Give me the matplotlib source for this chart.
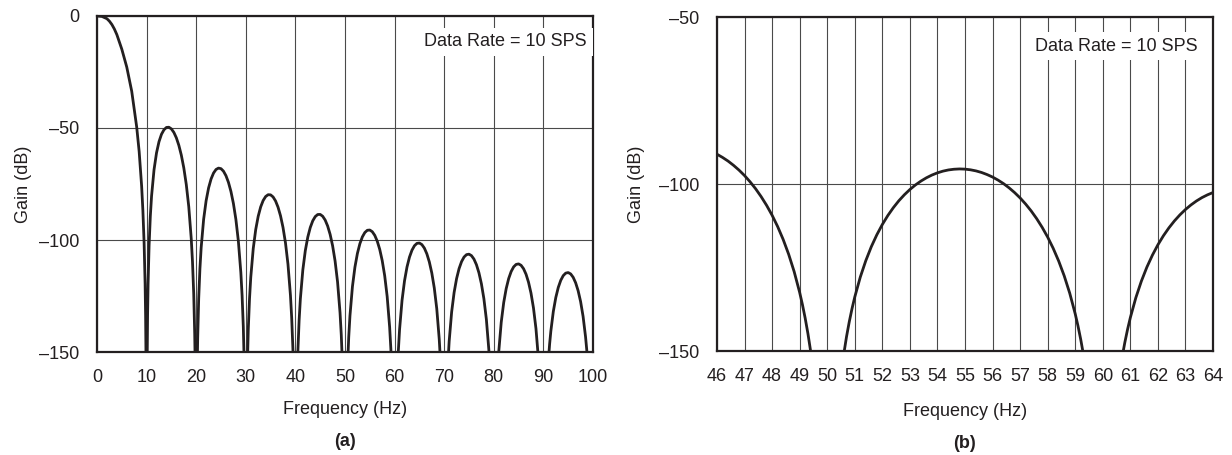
import matplotlib
matplotlib.use("Agg")
import matplotlib.pyplot as plt

plt.rcParams['font.family'] = ['Liberation Sans', 'DejaVu Sans']

# ---------------- data ----------------
# Panel (a): 0-100 Hz.  Points below -150 dB are the notches (clipped by the axis floor).
freq_a = [0.0, 1.0, 2.0, 2.5, 3.0, 3.5, 4.0, 5.0, 6.0, 7.0, 8.0, 8.5, 9.0, 9.25, 9.5, 9.7, 9.8, 9.9,
          10.1, 10.2, 10.3, 10.5, 10.75, 11.0, 11.5, 12.0, 12.5, 13.0, 13.5, 14.0, 14.5, 15.0, 15.5, 16.0, 16.5, 17.0, 17.5, 18.0, 18.5, 19.0, 19.25, 19.5, 19.7, 19.8,
          20.2, 20.3, 20.5, 20.75, 21.0, 21.5, 22.0, 22.5, 23.0, 23.5, 24.0, 24.5, 25.0, 25.5, 26.0, 26.5, 27.0, 27.5, 28.0, 28.5, 29.0, 29.25, 29.5, 29.7,
          30.3, 30.5, 30.75, 31.0, 31.5, 32.0, 32.5, 33.0, 33.5, 34.0, 34.5, 35.0, 35.5, 36.0, 36.5, 37.0, 37.5, 38.0, 38.5, 39.0, 39.25, 39.5, 39.7,
          40.3, 40.5, 40.75, 41.0, 41.5, 42.0, 42.5, 43.0, 43.5, 44.0, 44.5, 45.0, 45.5, 46.0, 46.5, 47.0, 47.5, 48.0, 48.5, 49.0, 49.25, 49.5,
          50.5, 50.75, 51.0, 51.5, 52.0, 52.5, 53.0, 53.5, 54.0, 54.5, 55.0, 55.5, 56.0, 56.5, 57.0, 57.5, 58.0, 58.5, 59.0, 59.25, 59.5,
          60.5, 60.75, 61.0, 61.5, 62.0, 62.5, 63.0, 63.5, 64.0, 64.5, 65.0, 65.5, 66.0, 66.5, 67.0, 67.5, 68.0, 68.5, 69.0, 69.25,
          70.75, 71.0, 71.5, 72.0, 72.5, 73.0, 73.5, 74.0, 74.5, 75.0, 75.5, 76.0, 76.5, 77.0, 77.5, 78.0, 78.5, 79.0, 79.25,
          80.75, 81.0, 81.5, 82.0, 82.5, 83.0, 83.5, 84.0, 84.5, 85.0, 85.5, 86.0, 86.5, 87.0, 87.5, 88.0, 88.5, 89.0, 89.25,
          90.75, 91.0, 91.25, 91.5, 92.0, 92.5, 93.0, 93.5, 94.0, 94.5, 95.0, 95.5, 96.0, 96.5, 97.0, 97.5, 98.0, 98.5, 98.75, 99.0]
gain_a = [0.0, -0.2, -1.2, -2.3, -3.8, -5.8, -8.3, -14.8, -22.8, -33.6, -49.5, -60.5, -76.0, -86.8, -101.5, -119.5, -134.0, -158.0,
          -156.9, -133.2, -119.5, -102.5, -89.4, -80.4, -68.6, -61.1, -56.1, -52.8, -50.8, -49.75, -49.66, -50.41, -51.98, -54.39, -57.73, -62.12, -67.8, -75.2, -85.1, -99.4, -109.6, -124.0, -142.0, -156.2,
          -157.66, -143.74, -126.36, -112.80, -103.40, -90.74, -82.45, -76.73, -72.74, -70.09, -68.51, -67.90, -68.16, -69.28, -71.29, -74.25, -78.30, -83.67, -90.79, -100.46, -114.52, -124.62, -138.86, -156.80,
          -157.29, -139.83, -126.18, -116.68, -103.82, -95.33, -89.41, -85.22, -82.37, -80.60, -79.78, -79.85, -80.78, -82.58, -85.35, -89.20, -94.37, -101.29, -110.76, -124.62, -134.62, -148.77, -166.63,
          -167.06, -149.56, -135.85, -126.29, -113.32, -104.72, -98.69, -94.40, -91.43, -89.55, -88.62, -88.58, -89.40, -91.09, -93.75, -97.48, -102.55, -109.36, -118.72, -132.47, -142.41, -156.50,
          -157.16, -143.42, -133.82, -120.78, -112.12, -106.01, -101.65, -98.61, -96.66, -95.66, -95.55, -96.30, -97.92, -100.51, -104.17, -109.17, -115.90, -125.20, -138.88, -148.78, -162.84,
          -163.39, -149.63, -140.01, -126.92, -118.21, -112.05, -107.64, -104.56, -102.56, -101.51, -101.35, -102.05, -103.62, -106.16, -109.78, -114.73, -121.41, -130.66, -144.29, -154.17,
          -154.91, -145.28, -132.15, -123.40, -117.21, -112.76, -109.65, -107.61, -106.53, -106.33, -106.99, -108.53, -111.03, -114.62, -119.53, -126.18, -135.39, -148.98, -158.85,
          -159.48, -149.84, -136.68, -127.90, -121.69, -117.21, -114.07, -112.00, -110.90, -110.67, -111.30, -112.82, -115.29, -118.85, -123.73, -130.36, -139.54, -153.10, -162.96,
          -163.54, -153.88, -146.54, -140.70, -131.90, -125.67, -121.17, -118.00, -115.91, -114.79, -114.54, -115.15, -116.65, -119.10, -122.63, -127.49, -134.10, -143.26, -149.28, -156.80]

# Panel (b): 46-64 Hz close-up
freq_b = [46.0, 46.2, 46.4, 46.6, 46.8, 47.0, 47.2, 47.4, 47.6, 47.8, 48.0, 48.2, 48.4, 48.6, 48.8, 49.0, 49.1, 49.2, 49.3, 49.4, 49.5,
          50.5, 50.6, 50.7, 50.8, 50.9, 51.0, 51.2, 51.4, 51.6, 51.8, 52.0, 52.2, 52.4, 52.6, 52.8, 53.0, 53.2, 53.4, 53.6, 53.8, 54.0,
          54.2, 54.4, 54.6, 54.8, 55.0, 55.2, 55.4, 55.6, 55.8, 56.0, 56.2, 56.4, 56.6, 56.8, 57.0, 57.2, 57.4, 57.6, 57.8, 58.0,
          58.2, 58.4, 58.6, 58.8, 59.0, 59.1, 59.2, 59.3, 59.4,
          60.6, 60.7, 60.8, 60.9, 61.0, 61.2, 61.4, 61.6, 61.8, 62.0, 62.2, 62.4, 62.6, 62.8, 63.0, 63.2, 63.4, 63.6, 63.8, 64.0]
gain_b = [-91.09, -92.04, -93.13, -94.41, -95.85, -97.48, -99.34, -101.41, -103.76, -106.39, -109.36, -112.73, -116.58, -121.03, -126.23, -132.47, -136.10, -140.17, -144.80, -150.16, -156.50,
          -157.16, -150.95, -145.73, -141.25, -137.31, -133.82, -127.87, -122.95, -118.77, -115.21, -112.12, -109.43, -107.08, -105.01, -103.22, -101.65, -100.29, -99.13, -98.14, -97.32, -96.66,
          -96.15, -95.79, -95.58, -95.49, -95.55, -95.75, -96.08, -96.55, -97.17, -97.92, -98.84, -99.90, -101.15, -102.57, -104.17, -106.00, -108.05, -110.36, -112.97, -115.90,
          -119.25, -123.07, -127.49, -132.67, -138.88, -142.49, -146.55, -151.17, -156.51,
          -157.18, -151.95, -147.46, -143.51, -140.01, -134.04, -129.10, -124.90, -121.32, -118.21, -115.50, -113.13, -111.05, -109.23, -107.64, -106.27, -105.08, -104.07, -103.24, -102.56]

xticks_a = [0, 10, 20, 30, 40, 50, 60, 70, 80, 90, 100]
yticks_a = [0, -50, -100, -150]
xticks_b = [46, 47, 48, 49, 50, 51, 52, 53, 54, 55, 56, 57, 58, 59, 60, 61, 62, 63, 64]
yticks_b = [-50, -100, -150]
note_text = "Data Rate = 10 SPS"
xlabel_text = "Frequency (Hz)"
ylabel_text = "Gain (dB)"
captions = ["(a)", "(b)"]

# ---------------- drawing ----------------
INK = '#231f20'
GRID = '#4a4a4a'
FS = 13

W, H = 1232, 455
fig = plt.figure(figsize=(W / 100, H / 100), dpi=100)


def px_axes(left, top, right, bottom):
    return fig.add_axes([left / W, 1 - bottom / H, (right - left) / W, (bottom - top) / H])


def dash(v):
    return ('\u2013' + str(abs(v))) if v < 0 else str(v)


def style(ax, xt, yt, xlim, ylim, note_xy):
    ax.set_xlim(*xlim)
    ax.set_ylim(*ylim)
    ax.set_xticks(xt)
    ax.set_xticklabels([str(v) for v in xt])
    ax.set_yticks(yt)
    ax.set_yticklabels([dash(v) for v in yt])
    ax.tick_params(axis='both', length=0, labelsize=FS, colors=INK)
    ax.tick_params(axis='x', pad=12)
    ax.tick_params(axis='y', pad=13)
    ax.set_axisbelow(True)
    ax.grid(True, color=GRID, linewidth=0.8)
    for s in ax.spines.values():
        s.set_linewidth(1.6)
        s.set_color(INK)
    ax.set_xlabel(xlabel_text, fontsize=FS, color=INK)
    ax.set_ylabel(ylabel_text, fontsize=FS, color=INK)
    ax.text(note_xy[0], note_xy[1], note_text, transform=ax.transAxes, ha='right', va='center',
            fontsize=FS, color=INK, zorder=3,
            bbox=dict(facecolor='white', edgecolor='none', pad=4))


axa = px_axes(97, 16, 593, 352)
axa.plot(freq_a, gain_a, color=INK, linewidth=2.0, solid_joinstyle='round', solid_capstyle='round', zorder=4)
style(axa, xticks_a, yticks_a, (0, 100), (-150, 0), (0.988, 0.923))
axa.xaxis.set_label_coords(0.5, -0.147)
axa.yaxis.set_label_coords(-0.131, 0.5)

axb = px_axes(717, 17, 1213, 351)
axb.plot(freq_b, gain_b, color=INK, linewidth=2.0, solid_joinstyle='round', solid_capstyle='round', zorder=4)
style(axb, xticks_b, yticks_b, (46, 64), (-150, -50), (0.970, 0.913))
axb.xaxis.set_label_coords(0.5, -0.155)
axb.yaxis.set_label_coords(-0.145, 0.5)

fig.text((97 + 593) / 2 / W, 1 - 441 / H, captions[0], ha='center', va='center',
         fontsize=FS, fontweight='bold', color=INK)
fig.text((717 + 1213) / 2 / W, 1 - 443 / H, captions[1], ha='center', va='center',
         fontsize=FS, fontweight='bold', color=INK)

fig.savefig('out.png', dpi=100, facecolor='white')
